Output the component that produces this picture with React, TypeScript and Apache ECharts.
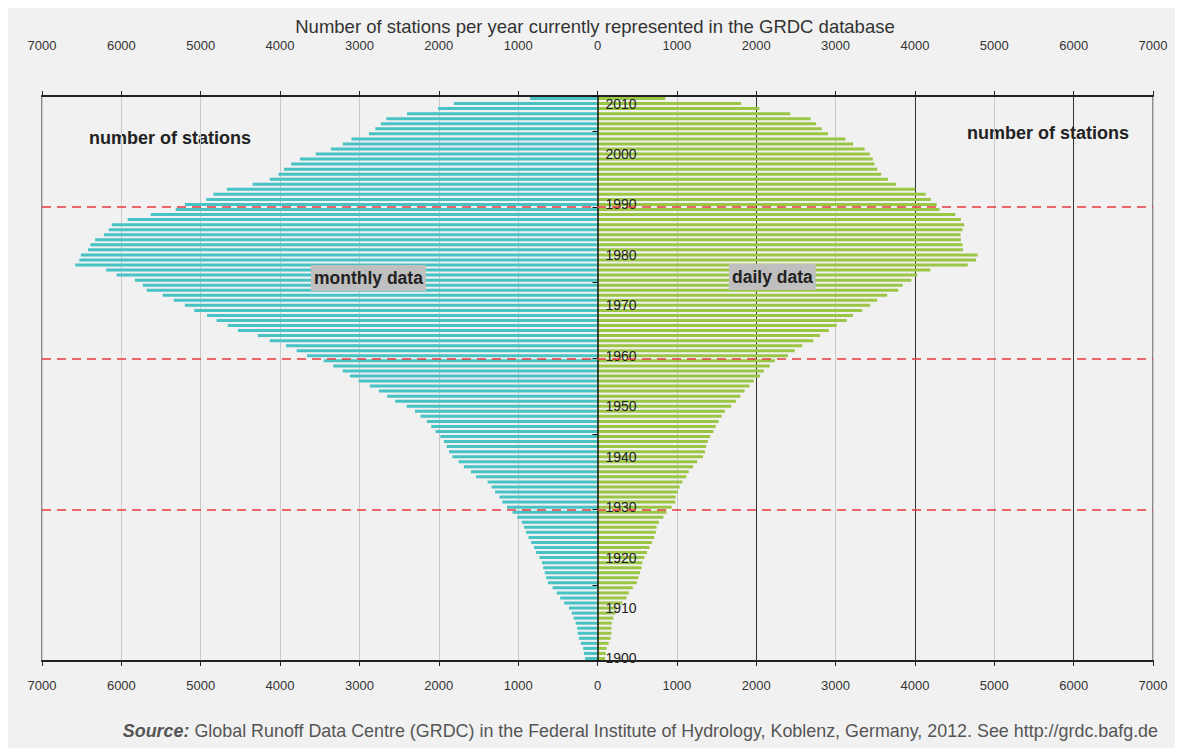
import React, { useEffect, useRef } from "react";
import * as echarts from "echarts";

// Years 1900..2011 (bottom to top)
const years: string[] = [];
for (let y = 1900; y <= 2011; y++) years.push(String(y));

// Monthly data (number of stations), 1900..2011
const monthly: number[] = [
  155, 170, 180, 210, 235, 250, 255, 275, 300, 325, // 1900-1909
  360, 420, 470, 515, 565, 625, 645, 665, 685, 700, // 1910-1919
  730, 775, 800, 835, 870, 900, 925, 955, 1010, 1070, // 1920-1929
  1140, 1200, 1235, 1290, 1335, 1385, 1530, 1595, 1685, 1750, // 1930-1939
  1830, 1870, 1900, 1935, 1980, 2040, 2095, 2150, 2230, 2300, // 1940-1949
  2405, 2550, 2650, 2755, 2870, 3010, 3120, 3210, 3330, 3450, // 1950-1959
  3660, 3790, 3925, 4130, 4280, 4530, 4660, 4800, 4920, 5080, // 1960-1969
  5200, 5340, 5480, 5680, 5730, 5830, 6060, 6190, 6580, 6530, // 1970-1979
  6510, 6420, 6390, 6330, 6220, 6160, 6120, 5920, 5630, 5315, // 1980-1989
  5200, 4930, 4840, 4670, 4345, 4130, 4020, 3950, 3860, 3750, // 1990-1999
  3550, 3360, 3210, 3100, 2880, 2800, 2730, 2660, 2400, 2010, // 2000-2009
  1810, 850, // 2010-2011
];

// Daily data (number of stations), 1900..2011
const daily: number[] = [
  95, 105, 115, 140, 165, 175, 175, 180, 200, 225, // 1900-1909
  245, 310, 365, 395, 445, 495, 515, 535, 555, 565, // 1910-1919
  590, 625, 655, 685, 715, 735, 745, 775, 830, 870, // 1920-1929
  935, 980, 985, 1010, 1035, 1070, 1120, 1150, 1205, 1255, // 1930-1939
  1330, 1355, 1370, 1390, 1420, 1460, 1490, 1525, 1565, 1605, // 1940-1949
  1685, 1745, 1800, 1855, 1915, 1970, 2050, 2095, 2170, 2235, // 1950-1959
  2400, 2485, 2580, 2720, 2805, 2915, 3015, 3140, 3220, 3335, // 1960-1969
  3435, 3525, 3650, 3790, 3845, 3955, 4030, 4195, 4665, 4770, // 1970-1979
  4790, 4605, 4600, 4580, 4575, 4600, 4620, 4580, 4510, 4310, // 1980-1989
  4275, 4200, 4135, 4005, 3760, 3660, 3575, 3525, 3490, 3470, // 1990-1999
  3430, 3365, 3220, 3125, 2905, 2825, 2755, 2685, 2430, 2040, // 2000-2009
  1810, 855, // 2010-2011
];

// Reference (red dashed) boundaries between years
const periodBreaks: number[] = [1929.5, 1959.5, 1989.5];
// Dark vertical reference lines on the daily side
const darkLines: number[] = [2000, 4000, 6000];

const titleText = "Number of stations per year currently represented in the GRDC database";
const sourceText =
  "Global Runoff Data Centre (GRDC) in the Federal Institute of Hydrology, Koblenz, Germany, 2012. See http://grdc.bafg.de";

const FONT = "'Liberation Sans', Arial, sans-serif";

const GRID_LEFT = 34;
const GRID_RIGHT = 25;
const CHART_W = 1170;
const GRID_W = CHART_W - GRID_LEFT - GRID_RIGHT;

export default function App() {
  const ref = useRef<HTMLDivElement>(null);

  useEffect(() => {
    if (!ref.current) return;
    const chart = echarts.init(ref.current, undefined, { renderer: "svg" });

    const xAxisCommon = {
      type: "value",
      min: -7000,
      max: 7000,
      interval: 1000,
      axisLabel: {
        formatter: (v: number) => String(Math.abs(v)),
        color: "#333",
        fontSize: 13,
        fontFamily: FONT,
      },
      axisTick: { show: true, length: 5, lineStyle: { color: "#222" } },
      axisLine: { show: true, onZero: false, lineStyle: { color: "#222", width: 2 } },
    };

    chart.setOption({
      animation: false,
      backgroundColor: "#f1f1f1",
      textStyle: { fontFamily: FONT },
      title: {
        text: titleText,
        top: 4,
        left: 590 - 8,
        textAlign: "center",
        textStyle: { fontSize: 18.5, fontWeight: "normal", color: "#333", fontFamily: FONT },
      },
      grid: {
        left: GRID_LEFT,
        right: GRID_RIGHT,
        top: 88,
        bottom: 87,
        show: true,
        borderColor: "#8a8a8a",
        borderWidth: 2,
        backgroundColor: "transparent",
      },
      xAxis: [
        {
          ...xAxisCommon,
          position: "top",
          axisLabel: { ...xAxisCommon.axisLabel, margin: 44 },
          splitLine: { show: true, lineStyle: { color: "#cacaca", width: 1 } },
        },
        {
          ...xAxisCommon,
          position: "bottom",
          axisLabel: { ...xAxisCommon.axisLabel, margin: 18 },
          splitLine: { show: false },
        },
      ],
      yAxis: [
        {
          type: "category",
          data: years,
          boundaryGap: true,
          position: "left",
          offset: -GRID_W / 2,
          axisLine: { show: true, onZero: false, lineStyle: { color: "#111", width: 1.5 } },
          axisTick: {
            show: true,
            length: 5,
            interval: (index: number) => index > 0 && index % 15 === 0,
            lineStyle: { color: "#111" },
          },
          axisLabel: {
            inside: true,
            margin: 8,
            interval: (index: number, value: string) => Number(value) % 10 === 0,
            color: "#222",
            fontSize: 14,
            fontFamily: FONT,
            padding: [0, 0, 4, 0],
          },
          splitLine: { show: false },
          z: 3,
        },
        {
          type: "value",
          min: 1899.5,
          max: 2011.5,
          show: false,
        },
      ],
      series: [
        {
          name: "monthly data",
          type: "bar",
          xAxisIndex: 0,
          yAxisIndex: 0,
          data: monthly.map((v) => -v),
          barWidth: 3,
          barGap: "-100%",
          itemStyle: { color: "#48c2c5" },
          z: 2,
        },
        {
          name: "daily data",
          type: "bar",
          xAxisIndex: 0,
          yAxisIndex: 0,
          data: daily,
          barWidth: 3,
          barGap: "-100%",
          itemStyle: { color: "#9bc545" },
          z: 2,
          markLine: {
            silent: true,
            symbol: "none",
            z: 1,
            label: { show: false },
            lineStyle: { color: "#333", width: 1, type: "solid" },
            data: darkLines.map((v) => ({ xAxis: v })),
          },
        },
        {
          name: "breaks",
          type: "line",
          xAxisIndex: 0,
          yAxisIndex: 1,
          data: [[0, 1950]],
          showSymbol: false,
          symbol: "none",
          lineStyle: { opacity: 0 },
          markLine: {
            silent: true,
            symbol: "none",
            z: 6,
            label: { show: false },
            lineStyle: { color: "#e8383d", width: 1.6, type: [9, 6] },
            data: periodBreaks.map((v) => ({ yAxis: v })),
          },
        },
      ],
      graphic: [
        {
          type: "text",
          left: 81,
          top: 121,
          style: { text: "number of stations", fontSize: 18, fontWeight: "bold", fill: "#222", fontFamily: FONT },
        },
        {
          type: "text",
          left: 959,
          top: 116,
          style: { text: "number of stations", fontSize: 18, fontWeight: "bold", fill: "#222", fontFamily: FONT },
        },
        {
          type: "text",
          left: 303,
          top: 257,
          z: 10,
          style: {
            text: "monthly data",
            fontSize: 17.5,
            fontWeight: "bold",
            fill: "#222",
            fontFamily: FONT,
            backgroundColor: "#bfbfbf",
            padding: [4, 3, 4, 3],
          },
        },
        {
          type: "text",
          left: 721,
          top: 256,
          z: 10,
          style: {
            text: "daily data",
            fontSize: 17.5,
            fontWeight: "bold",
            fill: "#222",
            fontFamily: FONT,
            backgroundColor: "#bfbfbf",
            padding: [4, 3, 4, 3],
          },
        },
        {
          type: "text",
          right: 20,
          top: 714,
          style: {
            text: "{b|Source:} " + sourceText,
            fontSize: 17.9,
            fill: "#555",
            fontFamily: FONT,
            rich: {
              b: { fontSize: 17.9, fontWeight: "bold", fontStyle: "italic", fill: "#555", fontFamily: FONT },
            },
          },
        },
      ],
    });

    return () => chart.dispose();
  }, []);

  return <div ref={ref} style={{ width: CHART_W, height: 740 }} />;
}
